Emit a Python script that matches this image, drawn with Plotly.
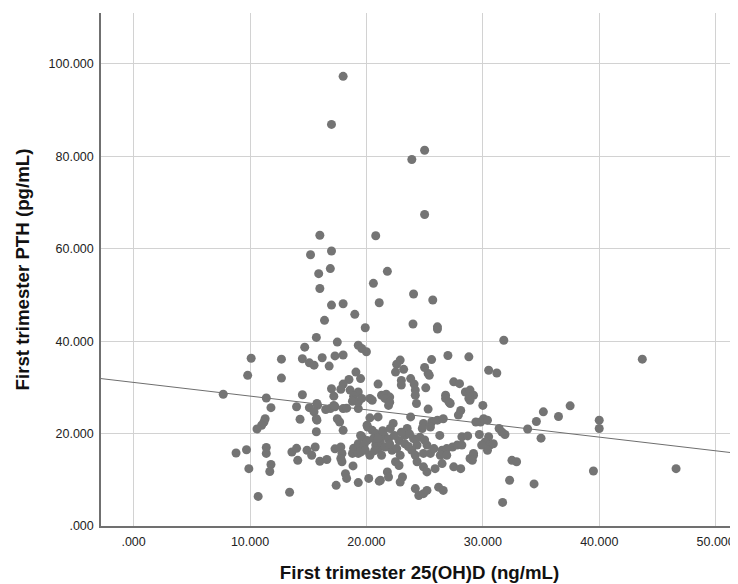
import plotly.graph_objects as go

# First trimester 25(OH)D (ng/mL)
vitd = [
    18.0, 17.0, 25.0, 23.9, 25.0, 20.8, 21.8, 20.6,
    16.0, 15.2, 17.0, 15.9, 16.9, 16.0,
    17.0, 18.0, 19.0, 16.4, 19.9, 21.1, 24.05, 25.7, 24.0, 26.1, 26.1,
    15.7, 17.5, 14.7, 19.3, 19.6, 20.0, 14.5, 15.1, 15.5, 16.2, 17.3, 18.0, 16.8,
    19.1, 19.5, 18.5, 18.0, 17.8, 17.0, 18.6, 19.3, 21.0, 14.5, 17.2, 18.9, 20.3, 21.3,
    10.1, 12.7, 9.8, 12.7, 7.7, 11.4,
    31.8, 30.5, 31.2, 43.7,
    22.9, 22.6, 22.5, 23.2, 25.6, 27.0, 28.8, 25.0, 25.3, 25.4,
    23.0, 23.8, 24.1, 24.2, 24.2, 23.0, 25.1, 27.5, 28.0, 28.5, 28.9, 29.2, 26.8, 21.7, 22.0,
    11.8, 14.0, 15.1, 15.8, 15.5, 15.7, 14.3, 16.9, 16.5, 17.3, 18.0, 18.9, 19.3, 17.5, 17.7, 15.7, 18.0, 20.05,
    11.3, 11.2, 11.0, 10.6,
    15.75, 17.2, 15.75, 18.3, 18.8, 19.3, 19.6, 20.5, 21.0, 20.3, 20.1, 20.5, 20.8,
    21.6, 21.9, 24.3, 26.8, 27.2, 28.8, 25.3, 28.1, 27.9, 23.8, 22.3, 22.05, 23.5, 23.3,
    24.9, 25.6, 26.1, 26.6, 24.8, 25.5, 26.3, 28.2, 28.7,
    30.0, 30.07, 29.8, 30.4, 29.4, 29.7, 30.5, 30.2, 30.6, 30.4, 29.9, 30.9, 31.4, 31.65, 31.9,
    33.85, 34.6, 35.2, 35.0, 36.5, 37.5, 40.0, 40.0,
    27.1, 28.9, 22.0,
    8.8, 9.7, 11.4, 11.4, 9.9, 11.8, 11.7, 10.7, 13.4, 13.6, 14.0, 14.1, 14.9, 15.3, 15.6,
    16.0, 16.6, 17.3, 17.8, 17.9, 17.8, 18.8, 18.9, 19.3, 19.5, 18.85, 18.2, 18.3, 17.4,
    19.3, 20.2, 19.6, 20.05, 19.3, 19.8,
    19.5, 19.5, 20.3, 21.0, 21.3, 20.8, 21.1, 17.9,
    21.5, 21.2, 21.6, 22.2, 22.8, 23.3, 22.6, 22.9, 22.5, 22.8, 24.05, 24.35, 23.9, 24.2,
    25.2, 25.5, 25.8, 24.9, 26.5, 26.9, 27.4, 27.8, 28.2, 26.35, 26.9, 28.9, 29.2,
    24.35, 24.9, 25.2, 25.9, 26.5, 27.5, 28.1, 21.8, 21.9, 21.2, 23.1, 22.9,
    24.2, 24.5, 24.9, 25.2, 26.2, 26.6,
    29.2, 29.1, 32.5, 32.9, 32.3, 34.4, 31.7, 39.5, 46.6,
    20.6, 21.0, 21.9, 22.4, 23.0, 23.7, 20.7, 22.0, 23.6, 24.6, 25.0, 21.4, 19.9,
]

# First trimester PTH (pg/mL)
pth = [
    97.3, 86.9, 81.3, 79.3, 67.4, 62.8, 55.1, 52.5,
    62.9, 58.7, 59.5, 54.6, 55.7, 51.4,
    47.8, 48.1, 45.8, 44.5, 42.9, 48.3, 50.2, 48.9, 43.7, 43.1, 42.6,
    40.8, 39.8, 38.7, 39.1, 38.4, 37.7, 36.2, 35.3, 34.8, 36.4, 36.8, 37.0, 34.6,
    33.3, 31.9, 31.7, 30.7, 29.6, 29.7, 29.4, 29.0, 30.7, 28.4, 28.1, 28.1, 27.6, 28.3,
    36.3, 36.1, 32.6, 32.0, 28.5, 27.7,
    40.2, 33.7, 33.1, 36.1,
    35.9, 35.0, 33.3, 33.9, 36.0, 36.9, 36.6, 34.3, 33.0, 32.6,
    31.5, 31.9, 30.7, 29.4, 28.3, 30.5, 29.9, 31.2, 30.8, 29.0, 29.4, 28.3, 28.3, 28.5, 27.9,
    25.6, 25.8, 25.6, 26.1, 24.7, 23.2, 23.1, 25.4, 25.2, 25.8, 25.4, 27.2, 25.4, 23.2, 22.5, 20.4, 20.7, 21.8,
    23.2, 22.5, 21.8, 21.0,
    26.5, 26.1, 22.9, 25.5, 27.0, 26.8, 27.6, 27.2, 23.6, 23.4, 21.4, 20.7, 20.0,
    27.6, 26.1, 26.5, 27.6, 26.5, 27.6, 25.3, 25.0, 24.0, 23.6, 22.2, 21.1, 21.1, 19.6,
    22.2, 22.5, 22.9, 23.2, 21.1, 21.4, 19.6, 19.3, 19.5,
    26.1, 23.2, 22.5, 22.9, 22.5, 19.8, 19.3, 18.2, 17.5, 16.4, 17.5, 17.8, 21.1, 20.3, 19.8,
    21.0, 22.6, 24.7, 19.0, 23.7, 26.0, 22.9, 21.1,
    26.8, 27.2, 26.8,
    15.8, 16.5, 17.0, 15.7, 12.4, 13.3, 11.8, 6.4, 7.3, 16.0, 16.8, 14.2, 16.4, 15.3, 17.1,
    14.0, 14.4, 16.7, 17.1, 15.7, 14.6, 15.7, 16.8, 15.7, 17.1, 13.0, 11.3, 10.3, 8.8,
    9.4, 10.3, 19.3, 18.5, 17.8, 17.5,
    19.6, 16.0, 15.3, 16.75, 15.3, 17.5, 9.7, 13.9,
    19.6, 18.2, 17.1, 16.4, 18.5, 17.8, 16.75, 15.3, 13.9, 13.1, 18.9, 17.5, 16.4, 15.3,
    17.5, 15.7, 16.75, 15.7, 16.4, 16.75, 17.1, 17.5, 17.5, 15.3, 15.3, 14.6, 15.7,
    13.9, 12.8, 11.7, 12.4, 13.5, 12.8, 12.4, 11.7, 10.6, 9.9, 10.6, 9.5,
    8.1, 6.6, 7.0, 7.7, 8.4, 7.7,
    15.3, 14.2, 14.2, 13.9, 9.9, 9.1, 5.1, 11.9, 12.4,
    18.9, 19.0, 18.8, 19.6, 20.3, 19.9, 16.3, 17.7, 17.2, 19.2, 18.6, 20.6, 16.4,
]

# Linear fit line
fit_intercept = 31.07
fit_slope = -0.296

x_ticks = [0, 10, 20, 30, 40, 50]
x_tick_labels = [".000", "10.000", "20.000", "30.000", "40.000", "50.000"]
y_ticks = [0, 20, 40, 60, 80, 100]
y_tick_labels = [".000", "20.000", "40.000", "60.000", "80.000", "100.000"]

x_range = [-2.8, 51.92]
y_range = [0, 111]

fig = go.Figure()

fit_x = x_range
fit_y = [fit_intercept + fit_slope * v for v in fit_x]
fig.add_trace(go.Scatter(
    x=fit_x, y=fit_y, mode="lines",
    line=dict(color="#6e6e6e", width=1),
    hoverinfo="skip", showlegend=False,
))

fig.add_trace(go.Scatter(
    x=vitd, y=pth, mode="markers",
    marker=dict(color="#747474", size=9, line=dict(width=0)),
    showlegend=False,
))

axis_font = dict(family="Liberation Sans, Arial, sans-serif", size=12.5, color="#222222")
title_font = dict(family="Liberation Sans, Arial, sans-serif", size=18.7, color="#111111")

# the page body has an 8px margin, so the figure is sized to fit inside the window
fig.update_layout(
    width=730, height=576,
    margin=dict(l=93, r=0, t=5, b=58),
    paper_bgcolor="white", plot_bgcolor="white",
    xaxis=dict(
        range=x_range, tickvals=x_ticks, ticktext=x_tick_labels,
        showgrid=True, gridcolor="#d2d2d2", gridwidth=1.3,
        showline=True, linecolor="#707070", linewidth=1.5,
        zeroline=False, ticks="", tickfont=axis_font, ticklabelstandoff=3,
        title=dict(text="<b>First trimester 25(OH)D (ng/mL)</b>", font=title_font, standoff=18),
        automargin=False,
    ),
    yaxis=dict(
        range=y_range, tickvals=y_ticks, ticktext=y_tick_labels,
        showgrid=True, gridcolor="#d2d2d2", gridwidth=1.3,
        showline=True, linecolor="#707070", linewidth=1.5,
        zeroline=False, ticks="", tickfont=axis_font, ticklabelstandoff=3,
        title=dict(text="<b>First trimester PTH (pg/mL)</b>", font=title_font, standoff=14),
        automargin=False,
    ),
)

fig.write_html("out.html")
